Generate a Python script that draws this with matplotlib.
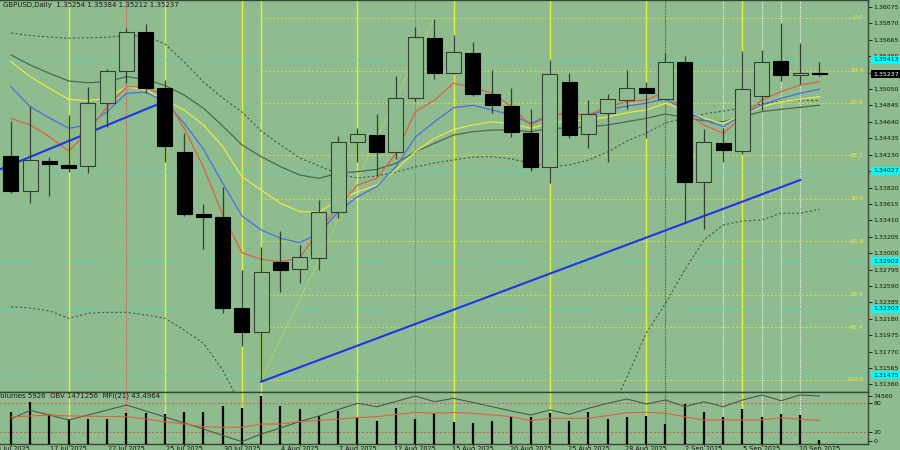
import matplotlib
matplotlib.use('Agg')
import matplotlib.pyplot as plt
from matplotlib.patches import Rectangle
import numpy as np

# GBPUSD daily, MT4 style chart

dates = ['14 Jul 2025', '15 Jul 2025', '16 Jul 2025', '17 Jul 2025', '18 Jul 2025',
         '21 Jul 2025', '22 Jul 2025', '23 Jul 2025', '24 Jul 2025', '25 Jul 2025',
         '28 Jul 2025', '29 Jul 2025', '30 Jul 2025', '31 Jul 2025', '1 Aug 2025',
         '4 Aug 2025', '5 Aug 2025', '6 Aug 2025', '7 Aug 2025', '8 Aug 2025',
         '11 Aug 2025', '12 Aug 2025', '13 Aug 2025', '14 Aug 2025', '15 Aug 2025',
         '18 Aug 2025', '19 Aug 2025', '20 Aug 2025', '21 Aug 2025', '22 Aug 2025',
         '25 Aug 2025', '26 Aug 2025', '27 Aug 2025', '28 Aug 2025', '29 Aug 2025',
         '1 Sep 2025', '2 Sep 2025', '3 Sep 2025', '4 Sep 2025', '5 Sep 2025',
         '8 Sep 2025', '9 Sep 2025', '10 Sep 2025']

opens = [1.34218, 1.33781, 1.34155, 1.34105, 1.34089, 1.34872, 1.35276, 1.35759, 1.35067, 1.34264,
         1.33493, 1.33452, 1.32312, 1.32020, 1.32890, 1.32799, 1.32936, 1.33511, 1.34385, 1.34476,
         1.34264, 1.34942, 1.35692, 1.35247, 1.35497, 1.34985, 1.34842, 1.34505, 1.34073, 1.35135,
         1.34485, 1.34747, 1.34917, 1.35067, 1.34926, 1.35388, 1.33893, 1.34380, 1.34276, 1.34960,
         1.35401, 1.35222, 1.35254]
highs = [1.34651, 1.34839, 1.34205, 1.34726, 1.35080, 1.35297, 1.35813, 1.35859, 1.35163, 1.34505,
         1.33615, 1.33831, 1.32790, 1.33074, 1.33281, 1.33102, 1.33664, 1.34464, 1.34567, 1.34739,
         1.35209, 1.35829, 1.35921, 1.35725, 1.35642, 1.35288, 1.35067, 1.34801, 1.35413, 1.35247,
         1.34913, 1.34988, 1.35284, 1.35142, 1.35497, 1.35467, 1.34555, 1.34560, 1.35525, 1.35538,
         1.35879, 1.35629, 1.35384]
lows = [1.33756, 1.33627, 1.33718, 1.34010, 1.33998, 1.34580, 1.35126, 1.34997, 1.34143, 1.33468,
        1.33049, 1.32257, 1.31841, 1.31395, 1.32512, 1.32628, 1.32790, 1.33436, 1.34143, 1.33968,
        1.34173, 1.34901, 1.35180, 1.35240, 1.34967, 1.34747, 1.34448, 1.34027, 1.33881, 1.34435,
        1.34318, 1.34135, 1.34801, 1.34443, 1.34920, 1.33381, 1.33302, 1.34143, 1.34239, 1.34789,
        1.35151, 1.35110, 1.35212]
closes = [1.33777, 1.34164, 1.34110, 1.34068, 1.34872, 1.35276, 1.35759, 1.35067, 1.34343, 1.33493,
          1.33456, 1.32312, 1.32020, 1.32765, 1.32790, 1.32949, 1.33511, 1.34393, 1.34485, 1.34264,
          1.34942, 1.35697, 1.35247, 1.35517, 1.34985, 1.34855, 1.34514, 1.34077, 1.35238, 1.34476,
          1.34735, 1.34926, 1.35067, 1.35001, 1.35392, 1.33893, 1.34389, 1.34289, 1.35047, 1.35392,
          1.35222, 1.35245, 1.35237]

ma_red = [1.34684, 1.34601, 1.34455, 1.34276, 1.34517, 1.34829, 1.35079, 1.35079, 1.34954, 1.34560,
          1.34072, 1.33477, 1.33006, 1.32923, 1.32893, 1.32940, 1.33289, 1.33580, 1.33851, 1.33935,
          1.34247, 1.34767, 1.34913, 1.35122, 1.35072, 1.34997, 1.34829, 1.34601, 1.34726, 1.34747,
          1.34726, 1.34829, 1.34892, 1.34913, 1.35017, 1.34751, 1.34601, 1.34497, 1.34704, 1.34913,
          1.35017, 1.35100, 1.35142]
ma_blue = [1.35079, 1.34829, 1.34688, 1.34560, 1.34601, 1.34767, 1.34997, 1.35009, 1.34892, 1.34622,
           1.34297, 1.33873, 1.33464, 1.33289, 1.33186, 1.33131, 1.33248, 1.33518, 1.33705, 1.33830,
           1.34080, 1.34447, 1.34642, 1.34817, 1.34847, 1.34788, 1.34726, 1.34622, 1.34726, 1.34738,
           1.34726, 1.34788, 1.34838, 1.34872, 1.34926, 1.34788, 1.34663, 1.34580, 1.34726, 1.34851,
           1.34934, 1.34997, 1.35047]
ma_yellow = [1.35391, 1.35204, 1.35059, 1.34922, 1.34904, 1.34934, 1.35079, 1.35038, 1.34913, 1.34788,
             1.34601, 1.34330, 1.33955, 1.33789, 1.33623, 1.33518, 1.33514, 1.33664, 1.33768, 1.33851,
             1.34039, 1.34267, 1.34435, 1.34547, 1.34601, 1.34642, 1.34613, 1.34560, 1.34622, 1.34654,
             1.34663, 1.34701, 1.34754, 1.34788, 1.34872, 1.34788, 1.34684, 1.34622, 1.34726, 1.34829,
             1.34892, 1.34922, 1.34954]
ma_gray = [1.35475, 1.35350, 1.35246, 1.35150, 1.35129, 1.35142, 1.35204, 1.35172, 1.35094, 1.34975,
           1.34809, 1.34588, 1.34351, 1.34205, 1.34080, 1.33976, 1.33935, 1.33998, 1.34018, 1.34047,
           1.34122, 1.34267, 1.34372, 1.34476, 1.34517, 1.34538, 1.34538, 1.34517, 1.34560, 1.34560,
           1.34580, 1.34601, 1.34642, 1.34684, 1.34738, 1.34694, 1.34654, 1.34642, 1.34704, 1.34767,
           1.34797, 1.34822, 1.34847]
band_upper = [1.35750, 1.35719, 1.35700, 1.35684, 1.35691, 1.35696, 1.35719, 1.35712, 1.35612, 1.35388,
              1.35138, 1.34938, 1.34763, 1.34526, 1.34351, 1.34189, 1.34089, 1.33989, 1.33939, 1.33964,
              1.34014, 1.34076, 1.34126, 1.34164, 1.34201, 1.34205, 1.34176, 1.34126, 1.34080, 1.34101,
              1.34164, 1.34264, 1.34401, 1.34501, 1.34626, 1.34688, 1.34738, 1.34776, 1.34813, 1.34863,
              1.34901, 1.34913, 1.34904]
nan = np.nan
band_lower = [1.32331, 1.32315, 1.32278, 1.32186, 1.32249, 1.32261, 1.32261, 1.32228, 1.32186, 1.32040,
              1.31874, 1.31541, 1.31066, nan, nan, nan, nan, nan, nan, nan,
              nan, nan, nan, nan, nan, nan, nan, nan, nan, nan,
              nan, 1.30941, 1.31453, 1.32003, 1.32374, 1.32790, 1.33164, 1.33352, 1.33402, 1.33414,
              1.33498, 1.33498, 1.33548]

volumes = [48900, 64800, 45800, 38100, 38100, 38100, 47400, 47400, 45800, 48900,
           48900, 58700, 55600, 74560, 58700, 53600, 43200, 51400, 42100, 36000,
           55100, 38100, 47400, 34400, 32900, 35500, 41200, 41200, 47400, 36000,
           49400, 38600, 41200, 43700, 30900, 61700, 48900, 42100, 54000, 42100,
           45800, 45200, 5926]
obv = [1282700, 1354000, 1315500, 1274500, 1315500, 1356500, 1397500, 1348300, 1299100, 1249900,
       1200700, 1147400, 1096600, 1159700, 1208900, 1262200, 1307300, 1360600, 1411400, 1383600,
       1426200, 1471300, 1424600, 1452400, 1418000, 1383600, 1348300, 1315500, 1356500, 1321200,
       1370400, 1411400, 1446700, 1405700, 1438500, 1383600, 1424600, 1383600, 1438500, 1479500,
       1432800, 1479500, 1471256]
mfi = [51.0, 53.1, 55.2, 53.1, 52.7, 52.0, 51.6, 46.7, 41.0, 36.1,
       30.4, 29.1, 29.1, 36.1, 36.1, 41.0, 43.5, 46.7, 49.5, 51.6,
       56.3, 60.9, 58.8, 60.5, 58.8, 55.2, 51.6, 43.1, 48.2, 48.2,
       48.2, 54.1, 60.1, 60.9, 58.8, 51.6, 44.6, 44.6, 44.6, 44.6,
       49.5, 46.1, 43.4964]

# drawn objects
fib_labels = ['0.0', '14.6', '23.6', '38.2', '50.0', '61.8', '76.4', '85.4', '100.0']
fib_prices = [1.35938, 1.35276, 1.34876, 1.34220, 1.33677, 1.33146, 1.32478, 1.32072, 1.31416]
fib_start = 13
cyan_levels = [1.35413, 1.34027, 1.32902, 1.32303, 1.31475]
trend1_x = [-0.571, 7.65]
trend1_y = [1.34047, 1.34862]
trend2_x = [13, 41]
trend2_y = [1.31395, 1.33914]
fib_diag_x = [13, 22]
fib_diag_y = [1.31416, 1.35938]

yellow_days = [3, 8, 12, 13, 18, 23, 28, 33, 38]
red_days = [6, 21]
gray_days = [34]
white_days = [37, 39, 40, 41]

price_ticks = [1.36075, 1.35870, 1.35665, 1.35460, 1.35255, 1.35050, 1.34845, 1.34640,
               1.34435, 1.34230, 1.34025, 1.33820, 1.33615, 1.33410, 1.33205, 1.33000,
               1.32795, 1.32590, 1.32385, 1.32180, 1.31975, 1.31770, 1.31565, 1.31360]
last_price = 1.35237

bg = '#8fbc8f'
edge = '#333f33'
W, H = 900, 450
fs = 4.5
x = np.arange(len(dates))

fig = plt.figure(figsize=(9, 4.5), dpi=100, facecolor=bg)
ax = fig.add_axes([0, 1 - 392 / H, 868 / W, 392 / H])
ax2 = fig.add_axes([0, 1 - 444.3 / H, 868 / W, 52.3 / H])

for a in (ax, ax2):
    a.set_facecolor(bg)
    a.set_xlim(-0.571, 44.52)
    a.spines['left'].set_visible(False)
    for s in ('top', 'right', 'bottom'):
        a.spines[s].set_color('#3a443a')
        a.spines[s].set_linewidth(1.0)
    for d in yellow_days:
        a.axvline(d, color='#e6f03a', lw=1.0, zorder=1)
    for d in red_days:
        a.axvline(d, color='#e0504a', lw=0.8, ls=(0, (1, 1)), zorder=1)
    for d in gray_days:
        a.axvline(d, color='#4a524a', lw=0.8, ls=(0, (1, 1)), zorder=1)
    for d in white_days:
        a.axvline(d, color='#f0f0f0', lw=0.8, ls=(0, (1, 1)), zorder=1)

ax.set_ylim(1.31266, 1.36162)

# levels
for lv in cyan_levels:
    ax.axhline(lv, color='#40e0d0', lw=0.7, ls=(0, (3, 3)), zorder=1)
for lbl, p in zip(fib_labels, fib_prices):
    ax.hlines(p, fib_start, 43.9, color='#dede40', lw=0.7, ls=(0, (2, 2)), zorder=1)
    ax.text(44.3, p, lbl, fontsize=fs, color='#e8e850', ha='right', va='center', zorder=2)
ax.plot(fib_diag_x, fib_diag_y, color='#dede40', lw=0.7, ls=(0, (1, 1)), zorder=2)

# indicators
ax.plot(x, band_upper, color='#485848', lw=0.8, ls=(0, (2, 2)), zorder=2)
ax.plot(x, band_lower, color='#485848', lw=0.8, ls=(0, (2, 2)), zorder=2)
ax.plot(x, ma_gray, color='#4e684e', lw=0.9, zorder=2)
ax.plot(x, ma_yellow, color='#e8e84a', lw=0.9, zorder=2)
ax.plot(x, ma_blue, color='#4a6ee8', lw=0.9, zorder=2)
ax.plot(x, ma_red, color='#e0603c', lw=0.9, zorder=2)
ax.plot(trend1_x, trend1_y, color='#1f35e8', lw=1.5, zorder=3)
ax.plot(trend2_x, trend2_y, color='#1f35e8', lw=1.5, zorder=3)

# candles
bw = 0.78
for i in range(len(x)):
    o, h, l, c = opens[i], highs[i], lows[i], closes[i]
    ax.vlines(i, l, h, color=edge, lw=0.9, zorder=4)
    lo = min(o, c)
    ht = max(abs(c - o), 0.00002)
    if c < o:
        ax.add_patch(Rectangle((i - bw / 2, lo), bw, ht, fc='black', ec='black', lw=0.8, zorder=5))
    else:
        ax.add_patch(Rectangle((i - bw / 2, lo), bw, ht, fc=bg, ec=edge, lw=0.8, zorder=5))

ax.set_xticks([])
ax.yaxis.tick_right()
ax.set_yticks(price_ticks)
ax.set_yticklabels(['%.5f' % p for p in price_ticks])
ax.tick_params(axis='y', length=3, width=0.6, pad=1.2, labelsize=fs, colors='#111111')

ytr = ax.get_yaxis_transform()
for lv in cyan_levels:
    ax.text(1 + 5 / 868, lv, '%.5f' % lv, transform=ytr, fontsize=fs, color='#111111',
            ha='left', va='center', clip_on=False, zorder=10,
            bbox=dict(boxstyle='square,pad=0.25', fc='#00ffff', ec='none'))
ax.text(1 + 5 / 868, last_price, '%.5f' % last_price, transform=ytr, fontsize=fs, color='white',
        ha='left', va='center', clip_on=False, zorder=10,
        bbox=dict(boxstyle='square,pad=0.25', fc='black', ec='none'))

# lower panel: volumes, OBV, MFI
axv = ax2.twinx()
axo = ax2.twinx()
axm = ax2.twinx()
ax2.set_ylim(-7, 104)
axm.set_ylim(-7, 104)
axv.set_ylim(-460, 80300)
axo.set_ylim(1075200, 1504100)
for a in (axv, axo, axm):
    for s in a.spines.values():
        s.set_visible(False)
    a.set_xlim(-0.571, 44.52)

ax2.axhline(80, color='#e05050', lw=0.7, ls=(0, (2, 2)), zorder=1)
ax2.axhline(20, color='#e05050', lw=0.7, ls=(0, (2, 2)), zorder=1)
axv.vlines(x, 0, volumes, color='black', lw=1.6)
axo.plot(x, obv, color='#4a5a4a', lw=0.8)
axm.plot(x, mfi, color='#e0603c', lw=0.8)

ax2.yaxis.tick_right()
ax2.set_yticks([0, 20, 80])
ax2.set_yticklabels(['0', '20', '80'])
ax2.tick_params(axis='y', length=3, width=0.6, pad=1.2, labelsize=fs, colors='#111111')
axv.set_yticks([74560])
axv.set_yticklabels(['74560'])
axv.tick_params(axis='y', length=3, width=0.6, pad=1.2, labelsize=fs, colors='#111111')
axo.set_yticks([])
axm.set_yticks([])

ax2.set_xticks(x[::3])
ax2.set_xticklabels(dates[::3])
ax2.tick_params(axis='x', length=1.5, width=0.6, pad=0, labelsize=4.7, colors='#111111')

fig.text(3 / W, 1 - 4.5 / H, 'GBPUSD,Daily  1.35254 1.35384 1.35212 1.35237',
         fontsize=5, color='#1a1a1a', ha='left', va='center')
fig.text(-4 / W, 1 - 396 / H, 'Volumes 5926  OBV 1471256  MFI(21) 43.4964',
         fontsize=5, color='#1a1a1a', ha='left', va='center')

fig.savefig('out.png', dpi=100, facecolor=bg)
